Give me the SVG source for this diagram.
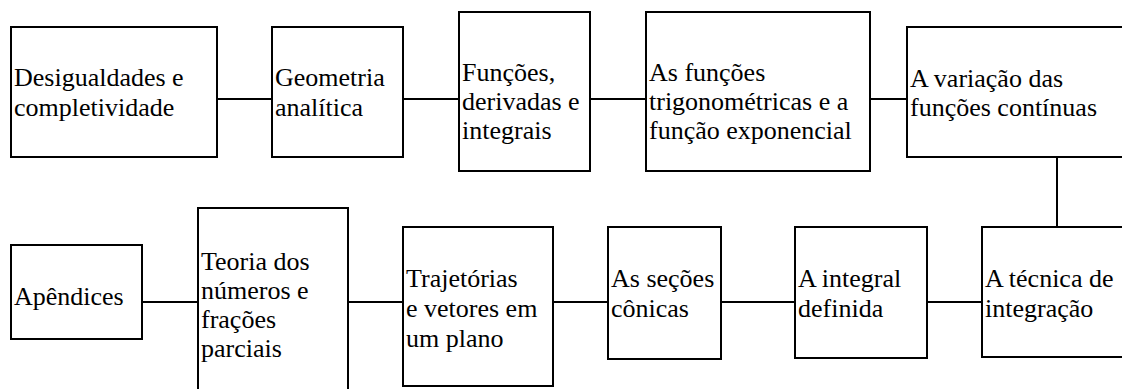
<svg xmlns="http://www.w3.org/2000/svg" width="1122" height="389" viewBox="0 0 1122 389">
<rect width="1122" height="389" fill="#ffffff"/>
<g id="connectors" stroke="#000000" stroke-width="2" fill="none">
<line x1="217" y1="99" x2="272" y2="99"/>
<line x1="403" y1="99" x2="459" y2="99"/>
<line x1="590" y1="99" x2="646" y2="99"/>
<line x1="870" y1="99" x2="907" y2="99"/>
<line x1="1057" y1="157" x2="1057" y2="227"/>
<line x1="142" y1="302" x2="198" y2="302"/>
<line x1="348" y1="302" x2="403" y2="302"/>
<line x1="553" y1="302" x2="608" y2="302"/>
<line x1="721" y1="302" x2="795" y2="302"/>
<line x1="927" y1="302" x2="982" y2="302"/>
</g>
<g id="n1"><rect fill="#ffffff" stroke="#000000" stroke-width="2" x="11" y="27" width="206" height="130"/><text font-family="Liberation Serif, Times New Roman, serif" font-size="26" x="14" y="86">Desigualdades e<tspan x="14" y="116">completividade</tspan></text></g>
<g id="n2"><rect fill="#ffffff" stroke="#000000" stroke-width="2" x="272" y="27" width="131" height="130"/><text font-family="Liberation Serif, Times New Roman, serif" font-size="26" x="275" y="86">Geometria<tspan x="275" y="116">analítica</tspan></text></g>
<g id="n3"><rect fill="#ffffff" stroke="#000000" stroke-width="2" x="459" y="12" width="131" height="159"/><text font-family="Liberation Serif, Times New Roman, serif" font-size="26" x="462" y="81">Funções,<tspan x="462" y="110">derivadas e</tspan><tspan x="462" y="139">integrais</tspan></text></g>
<g id="n4"><rect fill="#ffffff" stroke="#000000" stroke-width="2" x="646" y="12" width="224" height="159"/><text font-family="Liberation Serif, Times New Roman, serif" font-size="26" x="649" y="81">As funções<tspan x="649" y="110">trigonométricas e a</tspan><tspan x="649" y="139">função exponencial</tspan></text></g>
<g id="n5"><rect fill="#ffffff" stroke="#000000" stroke-width="2" x="907" y="27" width="225" height="130"/><text font-family="Liberation Serif, Times New Roman, serif" font-size="26" x="910" y="87">A variação das<tspan x="910" y="116">funções contínuas</tspan></text></g>
<g id="n6"><rect fill="#ffffff" stroke="#000000" stroke-width="2" x="982" y="227" width="150" height="130"/><text font-family="Liberation Serif, Times New Roman, serif" font-size="26" x="985" y="287">A técnica de<tspan x="985" y="317">integração</tspan></text></g>
<g id="n7"><rect fill="#ffffff" stroke="#000000" stroke-width="2" x="795" y="227" width="132" height="131"/><text font-family="Liberation Serif, Times New Roman, serif" font-size="26" x="798" y="287">A integral<tspan x="798" y="317">definida</tspan></text></g>
<g id="n8"><rect fill="#ffffff" stroke="#000000" stroke-width="2" x="608" y="227" width="113" height="132"/><text font-family="Liberation Serif, Times New Roman, serif" font-size="26" x="611" y="287">As seções<tspan x="611" y="317">cônicas</tspan></text></g>
<g id="n9"><rect fill="#ffffff" stroke="#000000" stroke-width="2" x="403" y="227" width="150" height="159"/><text font-family="Liberation Serif, Times New Roman, serif" font-size="26" x="406" y="287">Trajetórias<tspan x="406" y="317">e vetores em</tspan><tspan x="406" y="347">um plano</tspan></text></g>
<g id="n10"><rect fill="#ffffff" stroke="#000000" stroke-width="2" x="198" y="208" width="150" height="200"/><text font-family="Liberation Serif, Times New Roman, serif" font-size="26" x="201" y="270">Teoria dos<tspan x="201" y="299">números e</tspan><tspan x="201" y="328">frações</tspan><tspan x="201" y="357">parciais</tspan></text></g>
<g id="n11"><rect fill="#ffffff" stroke="#000000" stroke-width="2" x="11" y="245" width="131" height="94"/><text font-family="Liberation Serif, Times New Roman, serif" font-size="26" x="14" y="305">Apêndices</text></g>
</svg>
